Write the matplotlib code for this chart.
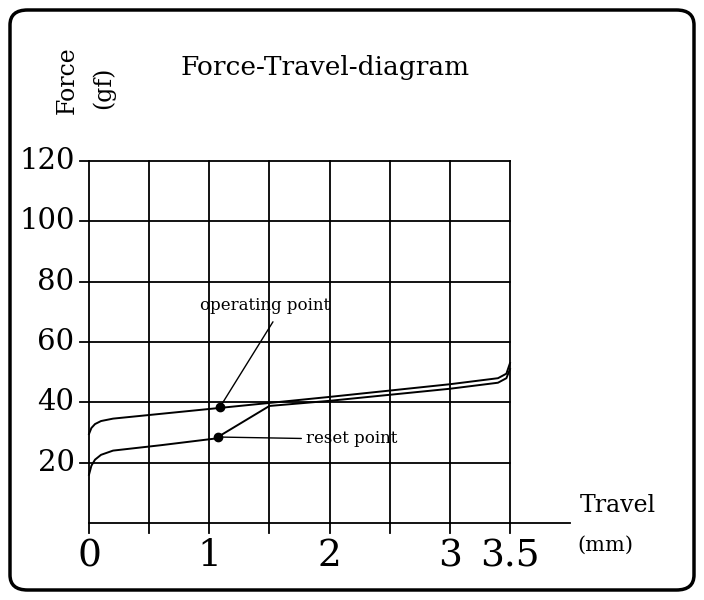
import matplotlib
matplotlib.use("Agg")
import matplotlib.pyplot as plt
from matplotlib.patches import FancyBboxPatch

press_x = [0.0, 0.02, 0.05, 0.1, 0.2, 1.0, 2.0, 3.0, 3.4, 3.47, 3.5]
press_y = [29.5, 31.5, 32.8, 33.8, 34.6, 37.8, 41.8, 46.0, 48.0, 49.5, 53.0]
ret_x = [0.0, 0.02, 0.05, 0.1, 0.2, 0.6, 1.05, 1.5, 2.0, 3.0, 3.4, 3.47, 3.5]
ret_y = [16.0, 19.0, 21.0, 22.6, 24.0, 25.8, 28.0, 38.8, 40.5, 44.5, 46.5, 48.0, 51.0]
op_pt = (1.09, 38.5)
rs_pt = (1.07, 28.5)
yticks = [20, 40, 60, 80, 100, 120]
xticks = [0, 1, 2, 3, 3.5]
xtick_labels = ["0", "1", "2", "3", "3.5"]

fn = "DejaVu Serif"
fig = plt.figure(figsize=(7.04, 6.0), dpi=100)
fig.patches.append(FancyBboxPatch((10/704, 10/600), 684/704, 580/600,
    boxstyle="round,pad=0,rounding_size=0.025", transform=fig.transFigure,
    fill=False, lw=2.5, ec="black"))
ax = fig.add_axes([89/704, 1-523/600, 421/704, 362/600])
ax.set_xlim(0, 3.5); ax.set_ylim(0, 120)
ax.axis("off")
lw = 1.3
for x in [0, 0.5, 1, 1.5, 2, 2.5, 3, 3.5]:
    ax.plot([x, x], [0, 120], color="black", lw=lw, clip_on=False)
    ax.plot([x, x], [0, -3.3], color="black", lw=lw, clip_on=False)
for y in yticks:
    ax.plot([0, 3.5], [y, y], color="black", lw=lw, clip_on=False)
    ax.plot([-0.075, 0], [y, y], color="black", lw=lw, clip_on=False)
    ax.text(-0.12, y, str(y), ha="right", va="center", fontsize=21, family=fn)
ax.plot([0, 4.0], [0, 0], color="black", lw=lw, clip_on=False)
for x, l in zip(xticks, xtick_labels):
    ax.text(x, -5, l, ha="center", va="top", fontsize=27, family=fn)
ax.plot(press_x, press_y, color="black", lw=1.4, clip_on=False)
ax.plot(ret_x, ret_y, color="black", lw=1.4, clip_on=False)
ax.plot(*op_pt, "o", color="black", ms=6)
ax.plot(*rs_pt, "o", color="black", ms=6)
ax.annotate("operating point", xy=op_pt, xytext=(1.46, 72), ha="center", va="center",
            fontsize=12, family=fn,
            arrowprops=dict(arrowstyle="-", lw=1, shrinkA=4, shrinkB=0, relpos=(0.6, 0)))
ax.annotate("reset point", xy=rs_pt, xytext=(1.8, 28), ha="left", va="center",
            fontsize=12, family=fn,
            arrowprops=dict(arrowstyle="-", lw=1, shrinkA=1, shrinkB=0, relpos=(0, 0.5)))
fig.text(325/704, 1-67/600, "Force-Travel-diagram", ha="center", va="center", fontsize=19, family=fn)
fig.text(67/704, 1-80/600, "Force", rotation=90, ha="center", va="center", fontsize=17, family=fn)
fig.text(103/704, 1-88/600, "(gf)", rotation=90, ha="center", va="center", fontsize=17, family=fn)
fig.text(618/704, 1-505/600, "Travel", ha="center", va="center", fontsize=17, family=fn)
fig.text(605/704, 1-545/600, "(mm)", ha="center", va="center", fontsize=15, family=fn)
fig.savefig("out.png", dpi=100)
